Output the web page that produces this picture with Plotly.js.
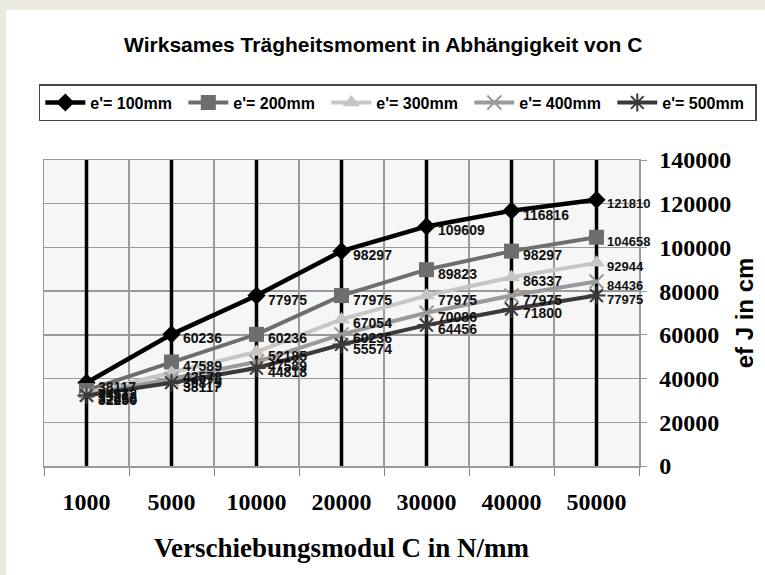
<!DOCTYPE html>
<html><head><meta charset="utf-8">
<script src="https://cdn.plot.ly/plotly-3.0.1.min.js"></script>
<style>
html,body{margin:0;padding:0;background:#ECEADF;width:765px;height:575px;overflow:hidden;}
#chart{position:absolute;left:6px;top:10px;width:759px;height:565px;background:#fff;}
</style></head>
<body><div id="chart"></div>
<script>
const categories = ['1000','5000','10000','20000','30000','40000','50000'];
const seriesNames = ["e'= 100mm","e'= 200mm","e'= 300mm","e'= 400mm","e'= 500mm"];
const e100 = [38117, 60236, 77975, 98297, 109609, 116816, 121810];
const e200 = [34572, 47589, 60236, 77975, 89823, 98297, 104658];
const e300 = [33262, 42578, 52185, 67054, 77975, 86337, 92944];
const e400 = [32656, 39879, 47589, 60236, 70086, 77975, 84436];
const e500 = [32250, 38117, 44818, 55574, 64456, 71800, 77975];
const yTicks = [0, 20000, 40000, 60000, 80000, 100000, 120000, 140000];

const series = [e100, e200, e300, e400, e500];
const colors = ['#000000', '#6e6e6e', '#c6c6c6', '#9a9a9a', '#3a3a3a'];
const symbols = ['diamond', 'square', 'triangle-up', 'x-thin-open', 'asterisk-open'];
const msizes = [14, 15, 15, 14, 15];
const lwidths = [4.5, 4, 4, 4, 4];

const traces = series.map((vals, s) => ({
  type: 'scatter', mode: 'lines+markers', name: seriesNames[s],
  x: categories, y: vals,
  line: {color: colors[s], width: lwidths[s]},
  marker: {symbol: symbols[s], size: msizes[s], color: colors[s],
           line: {color: colors[s], width: (s >= 3 ? 2 : 0)}},
  hoverinfo: 'x+y'
}));

const annotations = [];
series.forEach((vals, s) => {
  vals.forEach((v, i) => {
    const last = i === categories.length - 1;
    annotations.push({
      x: i, y: v, xref: 'x', yref: 'y', text: String(v),
      showarrow: false, xanchor: 'left', yanchor: 'middle',
      xshift: last ? 8 : 9, yshift: -4,
      font: {family: 'Arial, Liberation Sans, sans-serif', size: last ? 13 : 14, color: '#111', weight: 'bold'}
    });
  });
});

const shapes = categories.map((c, i) => ({
  type: 'line', xref: 'x', yref: 'y', x0: i, x1: i,
  y0: yTicks[0], y1: yTicks[yTicks.length - 1],
  line: {color: '#000', width: 3.5}, layer: 'between'
}));

const serifBold = {family: 'Liberation Serif, Times New Roman, serif', size: 24, color: '#000', weight: 'bold'};

const layout = {
  width: 759, height: 565,
  margin: {l: 38, r: 126, t: 150, b: 109, autoexpand: false},
  paper_bgcolor: '#ffffff', plot_bgcolor: '#f6f6f6',
  showlegend: true,
  title: {text: 'Wirksames Trägheitsmoment in Abhängigkeit von C',
          font: {family: 'Arial, Liberation Sans, sans-serif', size: 21, color: '#000', weight: 'bold'},
          xref: 'container', x: 0.497, xanchor: 'center', yref: 'container', y: 0.938, yanchor: 'middle'},
  legend: {orientation: 'h', xref: 'paper', yref: 'paper', x: 1.198, y: 1.248,
           xanchor: 'right', yanchor: 'top', bgcolor: '#fff', bordercolor: '#444', borderwidth: 1.5,
           font: {family: 'Arial, Liberation Sans, sans-serif', size: 16, color: '#000', weight: 'bold'},
           itemwidth: 40, entrywidth: 88, traceorder: 'normal', tracegroupgap: 0},
  xaxis: {type: 'category', categoryorder: 'array', categoryarray: categories,
          range: [-0.5, categories.length - 0.5],
          tickson: 'boundaries', ticks: 'outside', ticklen: 8, tickcolor: '#888', tickwidth: 1,
          showgrid: true, gridcolor: '#9a9a9a', gridwidth: 1.5,
          showline: true, linecolor: '#9a9a9a', linewidth: 1.5, mirror: true,
          tickfont: serifBold, ticklabelstandoff: 14,
          title: {text: 'Verschiebungsmodul C in N/mm', font: Object.assign({}, serifBold, {size: 27}), standoff: 24},
          zeroline: false, fixedrange: true},
  yaxis: {side: 'right', range: [yTicks[0], yTicks[yTicks.length - 1]],
          tickmode: 'array', tickvals: yTicks, ticktext: yTicks.map(String),
          ticks: 'outside', ticklen: 6, tickcolor: '#9a9a9a',
          showgrid: true, gridcolor: '#9a9a9a', gridwidth: 1.5,
          showline: true, linecolor: '#9a9a9a', linewidth: 1.5, mirror: true,
          tickfont: serifBold, ticklabelstandoff: 8, zeroline: false,
          title: {text: 'ef J in cm', font: {family: 'Arial, Liberation Sans, sans-serif', size: 24, color: '#000', weight: 'bold'}, standoff: 6},
          fixedrange: true},
  annotations: annotations,
  shapes: shapes
};

Plotly.newPlot('chart', traces, layout, {displayModeBar: false, staticPlot: true});
</script></body></html>
